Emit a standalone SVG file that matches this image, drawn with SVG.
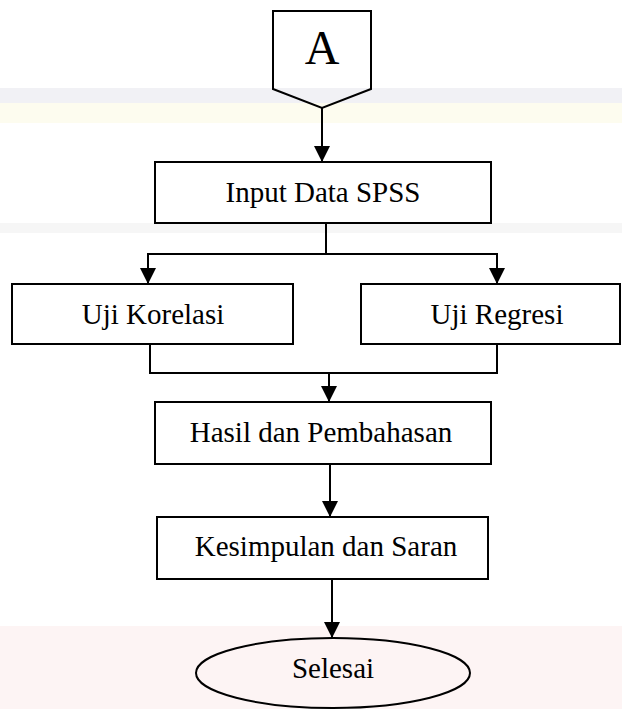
<svg xmlns="http://www.w3.org/2000/svg" width="622" height="709" viewBox="0 0 622 709">
<style>
.box{fill:none;stroke:#000;stroke-width:2}
.ln{fill:none;stroke:#000;stroke-width:2}
.lbl{font-family:"Liberation Serif","Times New Roman",serif;font-size:29px;fill:#000;text-anchor:middle}
</style>
<defs>
<marker id="arr" markerWidth="16" markerHeight="16" viewBox="0 0 16 16" refX="16" refY="8" orient="auto" markerUnits="userSpaceOnUse">
<path d="M0,0 L16,8 L0,16 Z" fill="#000"/>
</marker>
</defs>
<rect width="622" height="709" fill="#fff"/>
<g id="watermark">
<rect x="0" y="88" width="622" height="15" fill="#f1f1f5"/>
<rect x="0" y="103" width="622" height="20" fill="#fdfcef"/>
<rect x="0" y="223" width="622" height="10" fill="#f6f6f6"/>
<rect x="0" y="626" width="622" height="83" fill="#fdf4f4"/>
</g>
<g id="connectors">
<line class="ln" x1="322" y1="108" x2="322" y2="162" marker-end="url(#arr)"/>
<polyline class="ln" points="326,223 326,254"/>
<polyline class="ln" points="148,284 148,254 497,254 497,284"/>
<line class="ln" x1="148" y1="254" x2="148" y2="284" marker-end="url(#arr)"/>
<line class="ln" x1="497" y1="254" x2="497" y2="284" marker-end="url(#arr)"/>
<polyline class="ln" points="150,344 150,373 497,373 497,344"/>
<line class="ln" x1="329" y1="373" x2="329" y2="402" marker-end="url(#arr)"/>
<line class="ln" x1="330" y1="464" x2="330" y2="517" marker-end="url(#arr)"/>
<line class="ln" x1="332" y1="579" x2="332" y2="638" marker-end="url(#arr)"/>
</g>
<g id="nodeA">
<polygon class="box" points="273,11 371,11 371,89 322,108 273,89"/>
<text x="322" y="64" style="font-family:'Liberation Serif','Times New Roman',serif;font-size:48px;text-anchor:middle">A</text>
</g>
<g id="input">
<rect class="box" x="155" y="162" width="336" height="61"/>
<text class="lbl" x="323" y="202">Input Data SPSS</text>
</g>
<g id="korelasi">
<rect class="box" x="12" y="284" width="281" height="60"/>
<text class="lbl" x="153" y="324">Uji Korelasi</text>
</g>
<g id="regresi">
<rect class="box" x="361" y="284" width="259" height="60"/>
<text class="lbl" x="497" y="324">Uji Regresi</text>
</g>
<g id="hasil">
<rect class="box" x="155" y="402" width="336" height="62"/>
<text class="lbl" x="321" y="442">Hasil dan Pembahasan</text>
</g>
<g id="kesimpulan">
<rect class="box" x="157" y="517" width="331" height="62"/>
<text class="lbl" x="326" y="556">Kesimpulan dan Saran</text>
</g>
<g id="selesai">
<ellipse class="box" cx="333" cy="673" rx="137" ry="35"/>
<text class="lbl" x="333" y="678">Selesai</text>
</g>
</svg>
